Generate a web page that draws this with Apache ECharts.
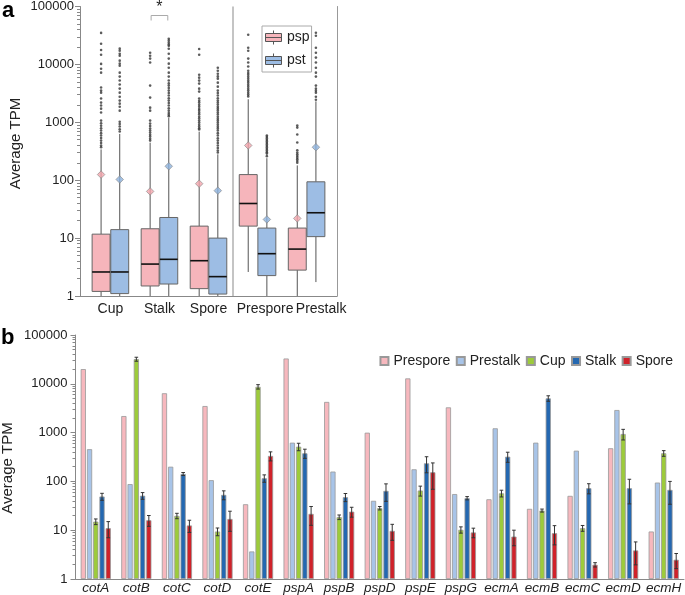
<!DOCTYPE html>
<html><head><meta charset="utf-8">
<script src="https://cdn.jsdelivr.net/npm/echarts@6/dist/echarts.min.js"></script>
<style>html,body{margin:0;padding:0;background:#fff}#c{width:685px;height:595px}</style>
</head><body><div id="c"></div>
<script>
// ---------- Panel a data (boxplots) ----------
const boxCats = ['Cup', 'Stalk', 'Spore', 'Prespore', 'Prestalk'];
// [lowWhisker, Q1, median, Q3, highWhisker]
const pspStats = [
  [1, 1.2, 2.6, 11.7, 340],
  [1, 1.49, 3.56, 14.5, 445],
  [1, 1.34, 4.07, 16.1, 690],
  [2.6, 16.1, 39.6, 125, 2500],
  [1, 2.8, 6.46, 14.9, 180]
];
const pstStats = [
  [1, 1.1, 2.6, 14, 630],
  [1, 1.61, 4.3, 22.7, 1200],
  [1, 1.08, 2.16, 10, 280],
  [1, 2.25, 5.38, 14.9, 240],
  [1.74, 10.6, 27.4, 93.8, 2300]
];
const pspMean = [125, 64, 87, 398, 21.9];
const pstMean = [103, 174, 66, 21, 371];
const pspOut = [
  [35000, 22700, 17700, 14700, 10200, 8400, 7200, 3980, 3530, 3250, 2570, 2190, 1950, 1720, 1480, 1070, 960, 870, 790, 720, 650, 590, 535, 483, 440, 398, 370],
  [15900, 14100, 12600, 10800, 4300, 2670, 1790, 1590, 1070, 950, 860, 780, 720, 664, 610, 566, 520, 483],
  [18400, 14700, 6640, 5900, 5250, 4660, 3810, 3390, 2570, 2350, 2190, 2000, 1860, 1700, 1590, 1460, 1360, 1250, 1160, 1070, 990, 910, 845, 790, 750],
  [32500, 19400, 17200, 12600, 10800, 9200, 7790, 7100, 6640, 6100, 5660, 5200, 4840, 4450, 4130, 3800, 3530, 3250, 3010, 2800],
  [877, 810, 615, 448, 330, 300, 280, 262, 245, 230, 215, 200]
];
const pstOut = [
  [18700, 17200, 15200, 14100, 11600, 10300, 9500, 7200, 6150, 5270, 4500, 3820, 3250, 2770, 2370, 2100, 1860, 1590, 1020, 930, 844, 760, 692],
  [27700, 25700, 23700, 22000, 20900, 18600, 15300, 12600, 10300, 8770, 7200, 6150, 5270, 4700, 4300, 3900, 3530, 3200, 2900, 2600, 2370, 2150, 1950, 1750, 1590, 1450, 1350, 1270],
  [8770, 7760, 6900, 6200, 5670, 4840, 4130, 3530, 3200, 2900, 2600, 2370, 2200, 2020, 1850, 1720, 1600, 1470, 1360, 1250, 1150, 1070, 990, 910, 840, 780, 720, 650, 590, 530, 483, 440, 398, 360, 325, 300],
  [590, 560, 525, 495, 465, 440, 413, 390, 366, 345, 325, 305, 288, 260],
  [35200, 31300, 19400, 15900, 13100, 10800, 8770, 7200, 6150, 4300, 3810, 3500, 3250, 2770, 2450]
];

// ---------- Panel b data (bars) ----------
const genes = ['cotA','cotB','cotC','cotD','cotE','pspA','pspB','pspD','pspE','pspG','ecmA','ecmB','ecmC','ecmD','ecmH'];
const prespore = [20000, 2180, 6400, 3500, 34, 33000, 4250, 995, 12900, 3290, 43, 27.4, 50.5, 478, 9.4];
const prestalk = [457, 88, 200, 106, 3.67, 622, 159, 40, 177, 55, 1225, 622, 426, 2900, 94.6];
const cup      = [15, 32000, 19.7, 9.4, 8700, 515, 18.5, 28.3, 65, 10.2, 57, 25.3, 11, 936, 377];
const stalk    = [49, 51, 142, 53, 116, 377, 47.5, 64, 235, 45.3, 321, 5030, 72.6, 72.6, 67];
const spore    = [11, 16, 12.5, 17, 333, 21.6, 24, 9.7, 154, 9, 7.4, 8.7, 1.96, 3.85, 2.48];
const cupErr   = [2, 3000, 2.5, 1.7, 900, 90, 2, 2.3, 15, 1.5, 9, 1.8, 1.5, 230, 50];
const stalkErr = [8, 8, 10, 11, 20, 80, 9, 25, 85, 3.5, 75, 650, 17, 38, 33];
const sporeErr = [4, 4, 3.5, 7.5, 70, 9, 5.5, 3.5, 85, 2, 2.6, 3.7, 0.2, 1.9, 0.85];
const yTicks = [1, 10, 100, 1000, 10000, 100000];

// ---------- styling ----------
const FONT = "'Liberation Sans', Arial, Helvetica, sans-serif";
const TXT = '#222';
const AX = '#888';
const PSP = '#f6b5bb', PST = '#9dbde4';
const BOX_OFF = 0.19, BOX_HALF = 0.183;
const BW = 5.2, BG = 0.2;
const minorTicks = [];
yTicks.slice(0, -1).forEach(d => { for (let m = 2; m <= 9; m++) minorTicks.push(m * d); });

function boxRender(off, fill) {
  return function (params, api) {
    const x = api.value(0) + off;
    const lo = api.coord([x, api.value(1)]);
    const q1 = api.coord([x, api.value(2)]);
    const md = api.coord([x, api.value(3)]);
    const q3 = api.coord([x, api.value(4)]);
    const hi = api.coord([x, api.value(5)]);
    const unit = api.coord([1, 10])[0] - api.coord([0, 10])[0];
    const hw = unit * BOX_HALF;
    return {
      type: 'group',
      children: [
        { type: 'line', shape: { x1: lo[0], y1: lo[1], x2: q1[0], y2: q1[1] }, style: { stroke: '#555', lineWidth: 1 } },
        { type: 'line', shape: { x1: q3[0], y1: q3[1], x2: hi[0], y2: hi[1] }, style: { stroke: '#555', lineWidth: 1 } },
        { type: 'rect', shape: { x: q3[0] - hw, y: q3[1], width: 2 * hw, height: q1[1] - q3[1] }, style: { fill: fill, stroke: '#666', lineWidth: 1 } },
        { type: 'line', shape: { x1: md[0] - hw, y1: md[1], x2: md[0] + hw, y2: md[1] }, style: { stroke: '#111', lineWidth: 1.6 } }
      ]
    };
  };
}

function errRender(k) {
  return function (params, api) {
    const i = api.value(0), v = api.value(1), e = api.value(2);
    const off = (k - 2) * (BW + BW * BG);
    const top = api.coord([i, v + e]);
    const bot = api.coord([i, v - e]);
    const x = top[0] + off;
    const c = 1.8;
    const st = { stroke: '#333', lineWidth: 1 };
    return {
      type: 'group',
      children: [
        { type: 'line', shape: { x1: x, y1: top[1], x2: x, y2: bot[1] }, style: st },
        { type: 'line', shape: { x1: x - c, y1: top[1], x2: x + c, y2: top[1] }, style: st },
        { type: 'line', shape: { x1: x - c, y1: bot[1], x2: x + c, y2: bot[1] }, style: st }
      ]
    };
  };
}

const chart = echarts.init(document.getElementById('c'));

const logAxisBase = (grid) => ({
  gridIndex: grid, type: 'log', logBase: 10, min: 1, max: 100000,
  splitLine: { show: false }
});

const option = {
  animation: false,
  backgroundColor: '#fff',
  textStyle: { fontFamily: FONT },
  grid: [
    { left: 80, right: 348, top: 6, bottom: 299 },
    { left: 75.5, right: 1, top: 335, bottom: 15.7 }
  ],
  legend: [
    {
      data: ['psp', 'pst'], orient: 'vertical', left: 262, top: 26,
      padding: [4, 2, 4, 3], itemWidth: 17, itemHeight: 14, itemGap: 8,
      borderColor: '#aaa', borderWidth: 1, backgroundColor: '#fff',
      icon: 'path://M9,0V3M1,3H17V11H1ZM1,7H17M9,11V14',
      itemStyle: { borderColor: '#555', borderWidth: 1 },
      textStyle: { fontSize: 14, color: TXT, fontFamily: FONT },
      selectedMode: false
    },
    {
      data: ['Prespore', 'Prestalk', 'Cup', 'Stalk', 'Spore'],
      right: 7, top: 349, itemWidth: 8, itemHeight: 8, itemGap: 5.5, icon: 'rect',
      textStyle: { fontSize: 14, color: TXT, fontFamily: FONT },
      selectedMode: false
    }
  ],
  xAxis: [
    {
      gridIndex: 0, type: 'value', min: -0.62, max: 4.62,
      axisLine: { show: true, onZero: false, lineStyle: { color: AX } },
      axisTick: { show: false }, splitLine: { show: false },
      axisLabel: {
        customValues: [0, 1, 2, 3, 4], margin: 6, fontSize: 14, color: TXT, fontFamily: FONT,
        formatter: v => {
          const i = Math.round(v), n = boxCats[i];
          return i === 3 ? '{s1|' + n + '}' : i === 4 ? '{s2|' + n + '}' : n;
        },
        rich: {
          s1: { padding: [0, 0, 0, 15], fontSize: 14, color: TXT, fontFamily: FONT },
          s2: { padding: [0, 0, 0, 29], fontSize: 14, color: TXT, fontFamily: FONT }
        }
      }
    },
    {
      gridIndex: 1, type: 'category', data: genes,
      axisLine: { show: true, lineStyle: { color: AX } },
      axisTick: { show: false },
      axisLabel: { interval: 0, margin: 2, fontSize: 13.5, fontStyle: 'italic', color: TXT, fontFamily: FONT }
    }
  ],
  yAxis: [
    Object.assign(logAxisBase(0), {
      position: 'left',
      axisLine: { show: true, onZero: false, lineStyle: { color: AX } },
      axisTick: { show: true, length: 5, lineStyle: { color: AX } },
      axisLabel: { margin: 6, fontSize: 13, color: TXT, fontFamily: FONT, formatter: v => String(Math.round(v)) }
    }),
    Object.assign(logAxisBase(0), {
      position: 'right',
      axisLine: { show: true, onZero: false, lineStyle: { color: '#999' } },
      axisTick: { show: false }, axisLabel: { show: false }
    }),
    Object.assign(logAxisBase(0), {
      position: 'left',
      axisLine: { show: false, onZero: false },
      axisTick: { show: true, length: 3, customValues: minorTicks, lineStyle: { color: AX } },
      axisLabel: { show: false }
    }),
    Object.assign(logAxisBase(1), {
      position: 'left',
      axisLine: { show: true, onZero: false, lineStyle: { color: AX } },
      axisTick: { show: true, length: 5, lineStyle: { color: AX } },
      axisLabel: { margin: 8, fontSize: 13, color: TXT, fontFamily: FONT, formatter: v => String(Math.round(v)) }
    }),
    Object.assign(logAxisBase(1), {
      position: 'left',
      axisLine: { show: false, onZero: false },
      axisTick: { show: true, length: 3, customValues: minorTicks, lineStyle: { color: AX } },
      axisLabel: { show: false }
    })
  ],
  series: [
    {
      name: 'psp out', type: 'scatter', xAxisIndex: 0, yAxisIndex: 0, z: 2,
      symbol: 'circle', symbolSize: 2.6, itemStyle: { color: '#333' },
      data: pspOut.flatMap((arr, i) => arr.map(v => [i - BOX_OFF, v])),
      markLine: {
        silent: true, symbol: ['none', 'none'], label: { show: false },
        lineStyle: { color: '#c4c4c4', width: 2, type: 'solid' },
        data: [{ xAxis: 2.5 }]
      }
    },
    {
      name: 'pst out', type: 'scatter', xAxisIndex: 0, yAxisIndex: 0, z: 2,
      symbol: 'circle', symbolSize: 2.6, itemStyle: { color: '#333' },
      data: pstOut.flatMap((arr, i) => arr.map(v => [i + BOX_OFF, v]))
    },
    {
      name: 'psp', type: 'custom', xAxisIndex: 0, yAxisIndex: 0, z: 3,
      itemStyle: { color: PSP, borderColor: '#555', borderWidth: 1 },
      renderItem: boxRender(-BOX_OFF, PSP),
      encode: { x: 0, y: [1, 2, 3, 4, 5] },
      data: pspStats.map((s, i) => [i].concat(s))
    },
    {
      name: 'pst', type: 'custom', xAxisIndex: 0, yAxisIndex: 0, z: 3,
      itemStyle: { color: PST, borderColor: '#555', borderWidth: 1 },
      renderItem: boxRender(BOX_OFF, PST),
      encode: { x: 0, y: [1, 2, 3, 4, 5] },
      data: pstStats.map((s, i) => [i].concat(s))
    },
    {
      name: 'psp mean', type: 'scatter', xAxisIndex: 0, yAxisIndex: 0, z: 4,
      symbol: 'diamond', symbolSize: 7.5,
      itemStyle: { color: '#f4a5ad', borderColor: '#888', borderWidth: 0.8 },
      data: pspMean.map((v, i) => [i - BOX_OFF, v])
    },
    {
      name: 'pst mean', type: 'scatter', xAxisIndex: 0, yAxisIndex: 0, z: 4,
      symbol: 'diamond', symbolSize: 7.5,
      itemStyle: { color: '#8db3df', borderColor: '#888', borderWidth: 0.8 },
      data: pstMean.map((v, i) => [i + BOX_OFF, v])
    },
    // panel b bars
    { name: 'Prespore', type: 'bar', xAxisIndex: 1, yAxisIndex: 3, barWidth: BW, barGap: (BG * 100) + '%',
      itemStyle: { color: '#f7b8be', borderColor: '#999', borderWidth: 0.8 }, data: prespore },
    { name: 'Prestalk', type: 'bar', xAxisIndex: 1, yAxisIndex: 3, barWidth: BW, barGap: (BG * 100) + '%',
      itemStyle: { color: '#a8c4e8', borderColor: '#999', borderWidth: 0.8 }, data: prestalk },
    { name: 'Cup', type: 'bar', xAxisIndex: 1, yAxisIndex: 3, barWidth: BW, barGap: (BG * 100) + '%',
      itemStyle: { color: '#9dcb3b', borderColor: '#999', borderWidth: 0.8 }, data: cup },
    { name: 'Stalk', type: 'bar', xAxisIndex: 1, yAxisIndex: 3, barWidth: BW, barGap: (BG * 100) + '%',
      itemStyle: { color: '#2468b1', borderColor: '#999', borderWidth: 0.8 }, data: stalk },
    { name: 'Spore', type: 'bar', xAxisIndex: 1, yAxisIndex: 3, barWidth: BW, barGap: (BG * 100) + '%',
      itemStyle: { color: '#d0222a', borderColor: '#999', borderWidth: 0.8 }, data: spore },
    { name: 'Cup err', type: 'custom', xAxisIndex: 1, yAxisIndex: 3, z: 5, renderItem: errRender(2),
      encode: { x: 0, y: 1 }, data: cup.map((v, i) => [i, v, cupErr[i]]) },
    { name: 'Stalk err', type: 'custom', xAxisIndex: 1, yAxisIndex: 3, z: 5, renderItem: errRender(3),
      encode: { x: 0, y: 1 }, data: stalk.map((v, i) => [i, v, stalkErr[i]]) },
    { name: 'Spore err', type: 'custom', xAxisIndex: 1, yAxisIndex: 3, z: 5, renderItem: errRender(4),
      encode: { x: 0, y: 1 }, data: spore.map((v, i) => [i, v, sporeErr[i]]) }
  ]
};
chart.setOption(option);

// annotations: panel letters, axis titles, significance bracket
const pL = chart.convertToPixel({ xAxisIndex: 0, yAxisIndex: 0 }, [1 - 0.17, 100000]);
const pR = chart.convertToPixel({ xAxisIndex: 0, yAxisIndex: 0 }, [1 + 0.17, 100000]);
const bY = pL[1] + 9;
chart.setOption({
  graphic: [
    { type: 'text', left: 2, top: 0, style: { text: 'a', font: 'bold 22px ' + FONT, fill: '#000' } },
    { type: 'text', left: 1, top: 327, style: { text: 'b', font: 'bold 22px ' + FONT, fill: '#000' } },
    { type: 'text', x: 16, y: 143.5, rotation: Math.PI / 2,
      style: { text: 'Average TPM', font: '15px ' + FONT, fill: TXT, align: 'center', verticalAlign: 'middle' } },
    { type: 'text', x: 8, y: 468, rotation: Math.PI / 2,
      style: { text: 'Average TPM', font: '15px ' + FONT, fill: TXT, align: 'center', verticalAlign: 'middle' } },
    { type: 'polyline', shape: { points: [[pL[0], bY + 5], [pL[0], bY], [pR[0], bY], [pR[0], bY + 5]] },
      style: { stroke: '#aaa', lineWidth: 1, fill: null } },
    { type: 'text', x: (pL[0] + pR[0]) / 2, y: 0,
      style: { text: '*', font: '16px ' + FONT, fill: TXT, align: 'center', verticalAlign: 'top' } }
  ]
});
</script>
</body></html>
